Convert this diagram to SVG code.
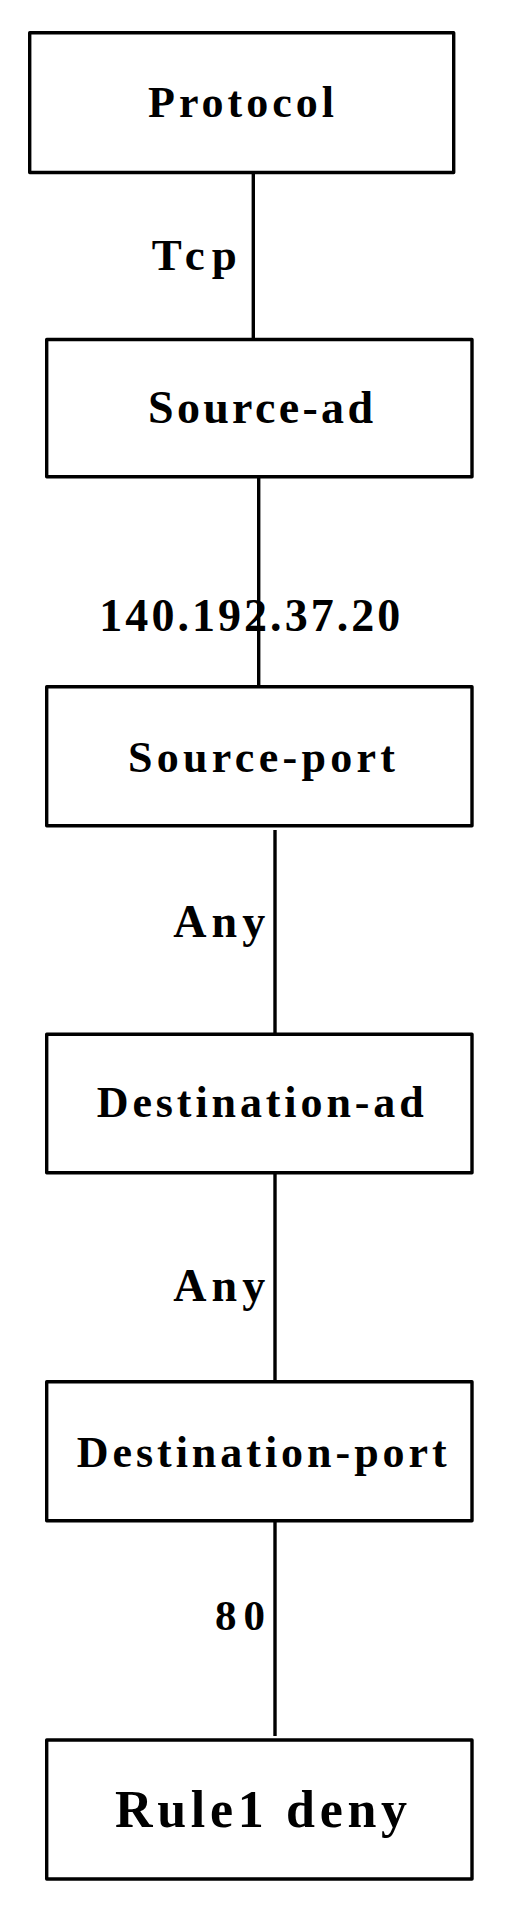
<svg xmlns="http://www.w3.org/2000/svg" width="505" height="1918" viewBox="0 0 505 1918">
<style>
.box{fill:#fff;stroke:#000;stroke-width:3.4;stroke-linejoin:round}
.lbl{font-family:"Liberation Serif","Times New Roman",serif;font-weight:bold;fill:#000}
.edge{stroke:#000;stroke-width:3.4;fill:none}
</style>
<rect width="505" height="1918" fill="#fff"/>
<g id="connectors">
<line class="edge" x1="253.3" y1="172.5" x2="253.3" y2="339.5"/>
<line class="edge" x1="258.7" y1="476.7" x2="258.7" y2="686.7"/>
<line class="edge" x1="275" y1="830" x2="275" y2="1034.3"/>
<line class="edge" x1="275" y1="1172.7" x2="275" y2="1381.7"/>
<line class="edge" x1="275" y1="1520.7" x2="275" y2="1736"/>
<text class="lbl" x="151.7" y="270" font-size="45" textLength="85" lengthAdjust="spacing">Tcp</text>
<text class="lbl" x="99.3" y="631" font-size="46" textLength="301" lengthAdjust="spacing">140.192.37.20</text>
<text class="lbl" x="173.3" y="936.7" font-size="46" textLength="92" lengthAdjust="spacing">Any</text>
<text class="lbl" x="173.3" y="1300.7" font-size="46" textLength="92" lengthAdjust="spacing">Any</text>
<text class="lbl" x="215" y="1630" font-size="43" textLength="50" lengthAdjust="spacing">80</text>
</g>
<g id="protocol">
<rect class="box" x="29.7" y="32.7" width="424" height="139.8"/>
<text class="lbl" x="148" y="117" font-size="44" textLength="186" lengthAdjust="spacing">Protocol</text>
</g>
<g id="source-ad">
<rect class="box" x="46.7" y="339.5" width="425.3" height="137.2"/>
<text class="lbl" x="148" y="423.3" font-size="46" textLength="225" lengthAdjust="spacing">Source-ad</text>
</g>
<g id="source-port">
<rect class="box" x="46.7" y="686.7" width="425.3" height="139"/>
<text class="lbl" x="128" y="771.7" font-size="44" textLength="267" lengthAdjust="spacing">Source-port</text>
</g>
<g id="destination-ad">
<rect class="box" x="46.7" y="1034.3" width="425.3" height="138.4"/>
<text class="lbl" x="96.7" y="1117.3" font-size="44" textLength="327" lengthAdjust="spacing">Destination-ad</text>
</g>
<g id="destination-port">
<rect class="box" x="46.7" y="1381.7" width="425.3" height="139"/>
<text class="lbl" x="76.7" y="1466.7" font-size="44" textLength="370" lengthAdjust="spacing">Destination-port</text>
</g>
<g id="rule1-deny">
<rect class="box" x="46.7" y="1740" width="425.3" height="139"/>
<text class="lbl" x="115" y="1826.7" font-size="52" textLength="292" lengthAdjust="spacing">Rule1 deny</text>
</g>
</svg>
